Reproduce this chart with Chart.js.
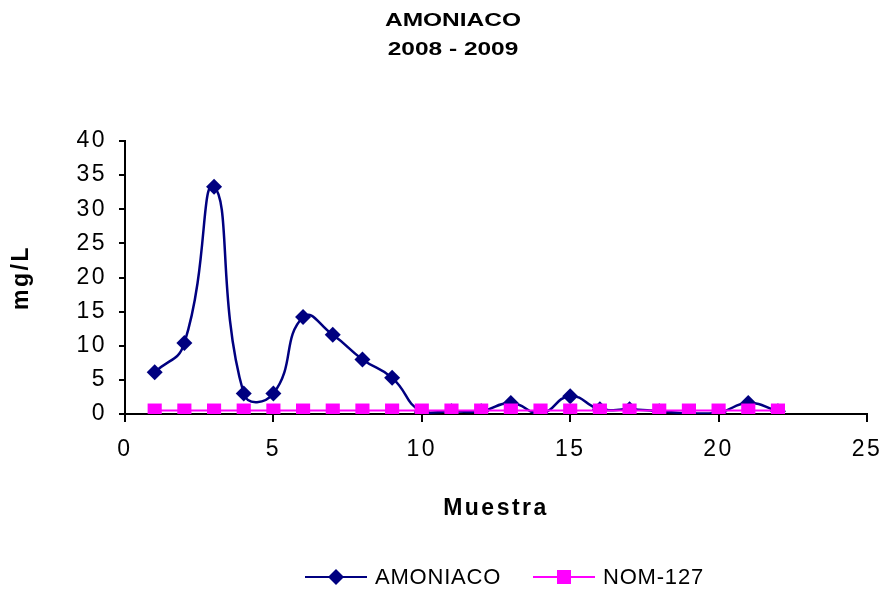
<!DOCTYPE html>
<html lang="es">
<head>
  <meta charset="UTF-8">
  <title>AMONIACO 2008 - 2009</title>
  <script src="https://cdn.jsdelivr.net/npm/chart.js"></script>
  <style>
    html, body {
      margin: 0;
      padding: 0;
      background: #fff;
    }
    .chart-container {
      position: relative;
      width: 886px;
      height: 592px;
    }
  </style>
</head>
<body>
  <div class="chart-container">
    <canvas id="myChart"></canvas>
  </div>

  <script>
    // data
    const muestras = [1, 2, 3, 4, 5, 6, 7, 8, 9, 10, 11, 12, 13, 14, 15, 16, 17, 18, 19, 20, 21, 22];
    const amoniaco = [6.1, 10.4, 33.3, 3.0, 3.0, 14.2, 11.6, 8.0, 5.3, 0.3, 0.4, 0.4, 1.6, 0.1, 2.6, 0.7, 0.7, 0.4, 0.1, 0.2, 1.6, 0.4];
    const nom127 = [0.5, 0.5, 0.5, 0.5, 0.5, 0.5, 0.5, 0.5, 0.5, 0.5, 0.5, 0.5, 0.5, 0.5, 0.5, 0.5, 0.5, 0.5, 0.5, 0.5, 0.5, 0.5];
    const seriesNames = ['AMONIACO', 'NOM-127'];
    const titleLines = ['AMONIACO', '2008 - 2009'];
    const xRange = [0, 25, 5];
    const yRange = [0, 40, 5];

    const NAVY = '#000080';
    const MAGENTA = '#FF00FF';
    const FONT = "'Liberation Sans', Arial, sans-serif";

    const toPoints = values => values.map((v, i) => ({ x: muestras[i], y: v }));

    // Excel-like wide text, stretched title and line/marker legend
    const excelLook = {
      id: 'excelLook',
      beforeDraw(chart) {
        chart.ctx.letterSpacing = '2.5px';
      },
      afterDraw(chart) {
        const ctx = chart.ctx;

        // title, stretched horizontally like the original export
        ctx.save();
        ctx.letterSpacing = '0px';
        ctx.font = 'bold 18px ' + FONT;
        ctx.fillStyle = '#000';
        ctx.textAlign = 'center';
        ctx.textBaseline = 'alphabetic';
        ctx.translate(chart.width / 2 + 10, 0);
        ctx.scale(1.36, 1);
        titleLines.forEach((line, i) => ctx.fillText(line, 0, 26 + i * 28.5));
        ctx.restore();

        // legend
        const y = chart.height - 15;
        const cx = (chart.chartArea.left + chart.chartArea.right) / 2;
        const items = [
          { name: seriesNames[0], color: NAVY, shape: 'diamond', x0: cx - 191 },
          { name: seriesNames[1], color: MAGENTA, shape: 'square', x0: cx + 37 }
        ];
        ctx.save();
        ctx.letterSpacing = '0.8px';
        ctx.font = '22px ' + FONT;
        ctx.textBaseline = 'middle';
        ctx.textAlign = 'left';
        items.forEach(it => {
          ctx.strokeStyle = it.color;
          ctx.fillStyle = it.color;
          ctx.lineWidth = 2;
          ctx.beginPath();
          ctx.moveTo(it.x0, y);
          ctx.lineTo(it.x0 + 62, y);
          ctx.stroke();
          const mx = it.x0 + 31;
          ctx.beginPath();
          if (it.shape === 'diamond') {
            ctx.moveTo(mx - 8, y);
            ctx.lineTo(mx, y - 8);
            ctx.lineTo(mx + 8, y);
            ctx.lineTo(mx, y + 8);
            ctx.closePath();
          } else {
            ctx.rect(mx - 7, y - 7, 14, 14);
          }
          ctx.fill();
          ctx.fillStyle = '#000';
          ctx.fillText(it.name, it.x0 + 70, y + 1);
        });
        ctx.restore();
      }
    };

    const ctx = document.getElementById('myChart').getContext('2d');
    const myChart = new Chart(ctx, {
      type: 'line',
      data: {
        datasets: [
          {
            label: seriesNames[1],
            data: toPoints(nom127),
            order: 0,
            borderColor: MAGENTA,
            backgroundColor: MAGENTA,
            borderWidth: 2,
            pointStyle: 'rect',
            pointRadius: 10,
            pointBorderWidth: 0,
            tension: 0
          },
          {
            label: seriesNames[0],
            data: toPoints(amoniaco),
            order: 1,
            borderColor: NAVY,
            backgroundColor: NAVY,
            borderWidth: 2.5,
            pointStyle: 'rectRot',
            pointRadius: 8,
            pointBorderWidth: 0,
            tension: 0.5
          }
        ]
      },
      options: {
        responsive: true,
        maintainAspectRatio: false,
        animation: false,
        layout: {
          padding: { top: 141, right: 19, bottom: 0, left: 0 }
        },
        scales: {
          x: {
            type: 'linear',
            min: xRange[0],
            max: xRange[1],
            afterFit: scale => {
              scale.height = 178;
              scale.paddingLeft = 0;
              scale.paddingRight = 0;
            },
            ticks: {
              stepSize: xRange[2],
              color: '#000',
              padding: 14,
              maxRotation: 0,
              font: { family: FONT, size: 23 }
            },
            grid: {
              drawOnChartArea: false,
              drawTicks: true,
              tickLength: 8,
              tickColor: '#000',
              lineWidth: 2
            },
            border: { color: '#000', width: 2 },
            title: {
              display: true,
              text: 'Muestra',
              color: '#000',
              padding: { top: 0, bottom: 70 },
              font: { family: FONT, size: 23, weight: 'bold' }
            }
          },
          y: {
            min: yRange[0],
            max: yRange[1],
            afterFit: scale => {
              scale.width = 125;
              scale.paddingTop = 0;
            },
            ticks: {
              stepSize: yRange[2],
              color: '#000',
              padding: 12,
              font: { family: FONT, size: 23 }
            },
            grid: {
              drawOnChartArea: false,
              drawTicks: true,
              tickLength: 6,
              tickColor: '#000',
              lineWidth: 2
            },
            border: { color: '#000', width: 2 },
            title: {
              display: true,
              text: 'mg/L',
              color: '#000',
              padding: { top: 8, bottom: 0 },
              font: { family: FONT, size: 23, weight: 'bold' }
            }
          }
        },
        plugins: {
          legend: { display: false },
          tooltip: { enabled: false },
          title: { display: false }
        }
      },
      plugins: [excelLook]
    });
  </script>
</body>
</html>
